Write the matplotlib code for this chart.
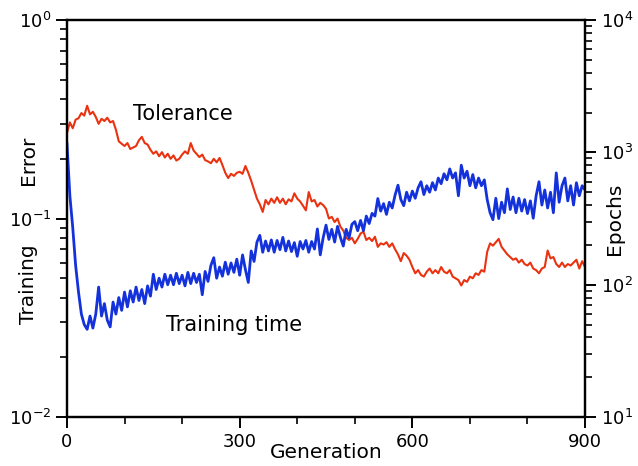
import matplotlib
matplotlib.use("Agg")
import matplotlib.pyplot as plt
import numpy as np
from matplotlib.ticker import LogLocator, FixedLocator

plt.rcParams['font.family'] = ['DejaVu Sans']

# Generation axis (every 5 generations)
generation = list(range(0, 901, 5))

# Tolerance (training error, left axis)
tolerance = [
    0.27, 0.305, 0.285, 0.315, 0.32, 0.34, 0.33, 0.37, 0.335, 0.345,
    0.325, 0.30, 0.318, 0.31, 0.322, 0.305, 0.31, 0.28, 0.245, 0.238,
    0.232, 0.24, 0.224, 0.228, 0.232, 0.248, 0.258, 0.24, 0.236, 0.222,
    0.212, 0.218, 0.206, 0.216, 0.203, 0.212, 0.2, 0.208, 0.196, 0.2,
    0.21, 0.218, 0.212, 0.24, 0.22, 0.212, 0.204, 0.21, 0.197, 0.194,
    0.19, 0.2, 0.192, 0.202, 0.186, 0.17, 0.16, 0.168, 0.164, 0.17,
    0.172, 0.168, 0.184, 0.17, 0.155, 0.14, 0.126, 0.118, 0.108, 0.124,
    0.118, 0.126, 0.12, 0.128, 0.12, 0.126, 0.118, 0.125, 0.122, 0.134,
    0.126, 0.122, 0.116, 0.11, 0.136, 0.122, 0.124, 0.115, 0.12, 0.117,
    0.112, 0.1, 0.102, 0.096, 0.1, 0.091, 0.087, 0.08, 0.078, 0.08,
    0.075, 0.079, 0.084, 0.086, 0.078, 0.08, 0.077, 0.081, 0.072, 0.075,
    0.074, 0.076, 0.072, 0.075, 0.07, 0.066, 0.061, 0.067, 0.065, 0.062,
    0.057, 0.053, 0.055, 0.052, 0.051, 0.054, 0.056, 0.053, 0.055, 0.053,
    0.057, 0.054, 0.053, 0.055, 0.051, 0.05, 0.049, 0.046, 0.049, 0.048,
    0.051, 0.05, 0.053, 0.052, 0.055, 0.054, 0.068, 0.075, 0.073, 0.076,
    0.079, 0.072, 0.069, 0.066, 0.064, 0.062, 0.063, 0.06, 0.062, 0.059,
    0.058, 0.06, 0.056, 0.055, 0.053, 0.056, 0.057, 0.069, 0.063, 0.064,
    0.059, 0.057, 0.06, 0.057, 0.059, 0.058, 0.06, 0.062, 0.056, 0.061,
    0.057,
]

# Training time (epochs, right axis)
training_time = [
    1160, 470, 270, 140, 88, 60, 50, 46, 58, 47,
    60, 96, 58, 72, 54, 48, 74, 60, 80, 64,
    88, 68, 90, 74, 96, 76, 92, 72, 98, 82,
    120, 92, 112, 96, 120, 100, 118, 100, 122, 102,
    118, 98, 124, 102, 122, 104, 120, 84, 126, 106,
    140, 160, 112, 136, 116, 148, 120, 146, 124, 156,
    118, 168, 130, 104, 180, 150, 210, 236, 176, 214,
    180, 218, 176, 216, 184, 228, 180, 214, 178, 208,
    164, 212, 186, 216, 176, 212, 186, 264, 168, 226,
    282, 220, 262, 210, 276, 228, 196, 262, 226, 286,
    300, 256, 306, 256, 330, 290, 346, 330, 448, 360,
    410, 340, 420, 380, 476, 565, 440, 396, 500, 430,
    510, 450, 540, 600, 480, 560, 500, 590, 520, 640,
    580, 690, 620, 750, 640, 700, 470, 800, 640, 720,
    560, 680, 540, 640, 560, 620, 440, 350, 310, 450,
    316, 420, 350, 530, 370, 460, 350, 450, 360, 440,
    345, 430, 318, 470, 600, 400, 520, 380, 500, 350,
    700, 420, 560, 640, 430, 560, 400, 590, 470, 560,
    520,
]

x_major_ticks = [0, 300, 600, 900]
x_minor_ticks = [100, 200, 400, 500, 700, 800]

red = '#ea3210'
blue = '#1432dc'

fig = plt.figure(figsize=(6.38, 4.66), dpi=100)
ax = fig.add_axes([0.105, 0.105, 0.812, 0.852])
ax2 = ax.twinx()

ax.plot(generation, tolerance, color=red, lw=1.5)
ax2.plot(generation, training_time, color=blue, lw=2.0)

ax.set_yscale('log')
ax2.set_yscale('log')
ax.set_ylim(1e-2, 1e0)
ax2.set_ylim(1e1, 1e4)
ax.set_xlim(0, 900)

ax.xaxis.set_major_locator(FixedLocator(x_major_ticks))
ax.xaxis.set_minor_locator(FixedLocator(x_minor_ticks))
for a in (ax, ax2):
    a.yaxis.set_minor_locator(LogLocator(base=10, subs=np.arange(2, 10), numticks=20))
    for s in a.spines.values():
        s.set_linewidth(1.6)

ax.tick_params(axis='both', which='major', direction='out', length=8, width=1.4,
               labelsize=13, top=False)
ax.tick_params(axis='both', which='minor', direction='out', length=5, width=1.2, top=False)
ax2.tick_params(axis='y', which='major', direction='out', length=8, width=1.4, labelsize=13)
ax2.tick_params(axis='y', which='minor', direction='out', length=5, width=1.2)

ax.set_xlabel('Generation', fontsize=14.5, labelpad=-6)

fig.text(29 / 638, 1 - 284 / 466, 'Training', rotation=90, ha='center', va='center', fontsize=14.5)
fig.text(29 / 638, 1 - 160 / 466, 'Error', rotation=90, ha='center', va='center', fontsize=14.5)
fig.text(614 / 638, 1 - 219 / 466, 'Epochs', rotation=90, ha='center', va='center', fontsize=14.5)

ax.text(201, 0.336, 'Tolerance', ha='center', va='center', fontsize=15)
ax.text(290, 0.029, 'Training time', ha='center', va='center', fontsize=15)

fig.savefig('out.png', dpi=100)
